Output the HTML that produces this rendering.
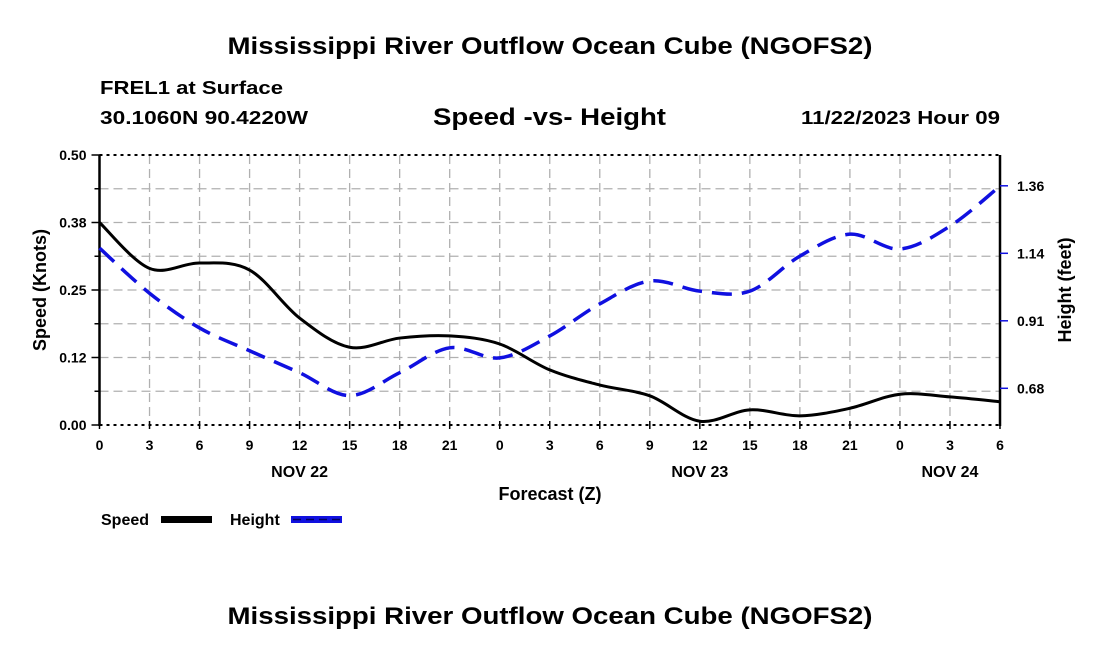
<!DOCTYPE html>
<html><head><meta charset="utf-8"><style>
html,body{margin:0;padding:0;background:#fff;}
svg{display:block;font-family:"Liberation Sans",sans-serif;font-weight:bold;}
</style></head><body>
<svg id="chart" width="1100" height="650" viewBox="0 0 1100 650">
<text x="550" y="54" text-anchor="middle" font-size="24" textLength="645" lengthAdjust="spacingAndGlyphs">Mississippi River Outflow Ocean Cube (NGOFS2)</text>
<text x="100" y="94" font-size="18" textLength="183" lengthAdjust="spacingAndGlyphs">FREL1 at Surface</text>
<text x="100" y="124" font-size="18" textLength="208" lengthAdjust="spacingAndGlyphs">30.1060N  90.4220W</text>
<text x="433" y="125" font-size="24" textLength="233" lengthAdjust="spacingAndGlyphs">Speed -vs- Height</text>
<text x="1000" y="124" font-size="18" text-anchor="end" textLength="199" lengthAdjust="spacingAndGlyphs">11/22/2023 Hour 09</text>
<g id="grid"></g>
<g id="axes"></g>
<g id="series"></g>
<text x="550" y="500" text-anchor="middle" font-size="18">Forecast (Z)</text>
<text transform="translate(46,290) rotate(-90)" text-anchor="middle" font-size="18">Speed (Knots)</text>
<text transform="translate(1071,290) rotate(-90)" text-anchor="middle" font-size="18">Height (feet)</text>
<g>
<text x="101" y="525" font-size="16">Speed</text>
<rect x="161" y="516" width="51" height="7" fill="#000"/>
<text x="230" y="525" font-size="16">Height</text>
<rect x="291" y="516" width="51" height="7" fill="#1010e0"/>
<line x1="293" y1="519.5" x2="342" y2="519.5" stroke="#000060" stroke-width="1.5" stroke-dasharray="8,5"/>
</g>
<text x="550" y="624" text-anchor="middle" font-size="24" textLength="645" lengthAdjust="spacingAndGlyphs">Mississippi River Outflow Ocean Cube (NGOFS2)</text>
</svg>
<script>
const hours=[0,3,6,9,12,15,18,21,24,27,30,33,36,39,42,45,48,51,54];
const xTickLabels=["0","3","6","9","12","15","18","21","0","3","6","9","12","15","18","21","0","3","6"];
const dayLabels=["NOV 22","NOV 23","NOV 24"];
const dayHours=[12,36,51];
const speed=[0.375,0.29,0.30,0.287,0.198,0.144,0.161,0.165,0.150,0.102,0.074,0.054,0.007,0.028,0.017,0.031,0.057,0.052,0.043];
const height=[1.155,1.003,0.886,0.809,0.735,0.658,0.735,0.819,0.785,0.859,0.967,1.044,1.010,1.010,1.128,1.202,1.152,1.229,1.364];
const speedTicks=[0,0.125,0.25,0.375,0.5];
const speedTickLabels=["0.00","0.12","0.25","0.38","0.50"];
const heightTicks=[0.6825,0.91,1.1375,1.365];
const heightTickLabels=["0.68","0.91","1.14","1.36"];
const L=99.5,R=1000,T=155,B=425;
const xS=h=>L+(R-L)*h/54;
const yS=v=>B-(B-T)*v/0.5;
const yH=v=>388.3-(v-0.6825)/0.2275*67.5;
const NS='http://www.w3.org/2000/svg';
function mk(tag,attrs,parent){const e=document.createElementNS(NS,tag);for(const k in attrs)e.setAttribute(k,attrs[k]);parent.appendChild(e);return e;}
const grid=document.getElementById('grid'),axes=document.getElementById('axes'),series=document.getElementById('series');
for(let i=1;i<8;i++){const y=T+(B-T)*i/8;const l=mk('line',{x1:L,x2:R,y1:y,y2:y,stroke:'#b0b0b0','stroke-width':1.3,'stroke-dasharray':'9,5'},grid);

}
hours.forEach((h,i)=>{if(i>0&&i<hours.length-1){const l=mk('line',{x1:xS(h),x2:xS(h),y1:T,y2:B,stroke:'#b0b0b0','stroke-width':1.3,'stroke-dasharray':'9,5'},grid);

}});
mk('line',{x1:L,x2:R,y1:T,y2:T,stroke:'#000','stroke-width':2,'stroke-dasharray':'3,4'},axes);
mk('line',{x1:L,x2:R,y1:B,y2:B,stroke:'#000','stroke-width':2,'stroke-dasharray':'3,4'},axes);
mk('line',{x1:L,x2:L,y1:T,y2:B+1,stroke:'#000','stroke-width':2.5},axes);
mk('line',{x1:R,x2:R,y1:T,y2:B+1,stroke:'#000','stroke-width':2.5},axes);
for(let i=0;i<=8;i++){const y=T+(B-T)*i/8;mk('line',{x1:L-(i%2?5:8),x2:L,y1:y,y2:y,stroke:'#000','stroke-width':1.5},axes);}
speedTicks.forEach((v,i)=>{const t=mk('text',{x:L-13,y:yS(v)+5,'text-anchor':'end','font-size':14},axes);t.textContent=speedTickLabels[i];

});
heightTicks.forEach((v,i)=>{const y=yH(v);mk('line',{x1:R,x2:R+8,y1:y,y2:y,stroke:'#1010e0','stroke-width':1.5},axes);
const t=mk('text',{x:R+17,y:y+5,'font-size':14},axes);t.textContent=heightTickLabels[i];

});
hours.forEach((h,i)=>{mk('line',{x1:xS(h),x2:xS(h),y1:B-4,y2:B+4,stroke:'#000','stroke-width':1.5},axes);
const t=mk('text',{x:xS(h),y:B+25,'text-anchor':'middle','font-size':14},axes);t.textContent=xTickLabels[i];

});
dayLabels.forEach((d,i)=>{const t=mk('text',{x:xS(dayHours[i]),y:B+52,'text-anchor':'middle','font-size':16},axes);t.textContent=d;

});
function smooth(pts){let d='M'+pts[0][0]+','+pts[0][1];for(let i=0;i<pts.length-1;i++){const p0=pts[Math.max(0,i-1)],p1=pts[i],p2=pts[i+1],p3=pts[Math.min(pts.length-1,i+2)];
d+=' C'+(p1[0]+(p2[0]-p0[0])/6)+','+(p1[1]+(p2[1]-p0[1])/6)+' '+(p2[0]-(p3[0]-p1[0])/6)+','+(p2[1]-(p3[1]-p1[1])/6)+' '+p2[0]+','+p2[1];}return d;}
const hp=mk('path',{d:smooth(hours.map((h,i)=>[xS(h),yH(height[i])])),fill:'none',stroke:'#1010e0','stroke-width':3.5,'stroke-dasharray':'20,10'},series);


const sp=mk('path',{d:smooth(hours.map((h,i)=>[xS(h),yS(speed[i])])),fill:'none',stroke:'#000','stroke-width':3},series);


</script>
</body></html>
